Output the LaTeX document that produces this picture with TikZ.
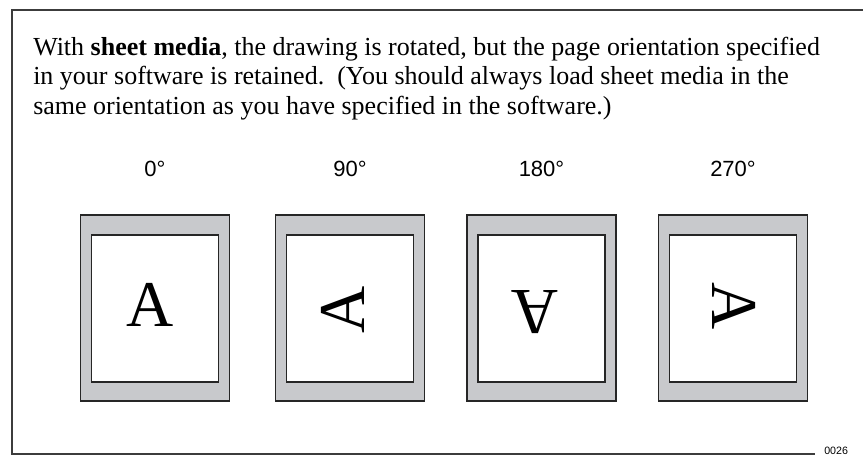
\documentclass[tikz,border=0pt]{standalone}
\usepackage{fontspec}
\setmainfont{Liberation Serif}
\newfontfamily\labelfont{Liberation Sans}
\definecolor{sheetgray}{RGB}{200,201,204}
\definecolor{framegray}{RGB}{60,60,60}
\begin{document}
\begin{tikzpicture}[x=0.75pt,y=-0.75pt,
  outersheet/.style={draw=black!85,line width=0.9pt,fill=sheetgray,minimum width=111.75pt,minimum height=139.5pt,inner sep=0pt},
  innersheet/.style={draw=black!85,line width=0.9pt,fill=white,minimum width=95.25pt,minimum height=110.25pt,inner sep=0pt},
  letter/.style={font=\fontsize{49}{49}\selectfont,inner sep=0pt,anchor=center},
  deglabel/.style={font=\labelfont\fontsize{16.5}{16.5}\selectfont,inner sep=0pt,anchor=base},
  bodyline/.style={font=\fontsize{19.5}{19.5}\selectfont,inner sep=0pt,anchor=base west},
  frameline/.style={draw=framegray,line width=1.1pt}]
\useasboundingbox (0,0) rectangle (863,456);
% frame
\coordinate (ftr) at (863,10);
\coordinate (ftl) at (12,10);
\coordinate (fbl) at (12,454);
\coordinate (fbr) at (815,454);
\draw[frameline] (ftr) -- (ftl) -- (fbl) -- (fbr);
\node[font=\labelfont\fontsize{8}{8}\selectfont,inner sep=0pt,anchor=base west] (num) at (824,454.5) {0026};
% text
\node[bodyline] (l1) at (33,55.5) {With \textbf{sheet media}, the drawing is rotated, but the page orientation specified};
\node[bodyline] (l2) at (33,85) {in your software is retained.\ \ (You should always load sheet media in the};
\node[bodyline] (l3) at (33,114.5) {same orientation as you have specified in the software.)};
% labels
\node[deglabel] (d0) at (155,176) {0°};
\node[deglabel] (d90) at (350,176) {90°};
\node[deglabel] (d180) at (541.5,176) {180°};
\node[deglabel] (d270) at (733,176) {270°};
% sheets
\foreach \n/\cx in {a/155,b/350,c/541.5,d/733}{
  \node[outersheet] (o\n) at (\cx,308) {};
  \node[innersheet] (i\n) at (\cx,308.5) {};
}
\node[letter] (Aa) at (150.5,305) {A};
\node[letter,rotate=90] (Ab) at (343,310) {A};
\node[letter,rotate=180] (Ac) at (535,312.5) {A};
\node[letter,rotate=270] (Ad) at (734.5,306.5) {A};
\end{tikzpicture}
\end{document}
